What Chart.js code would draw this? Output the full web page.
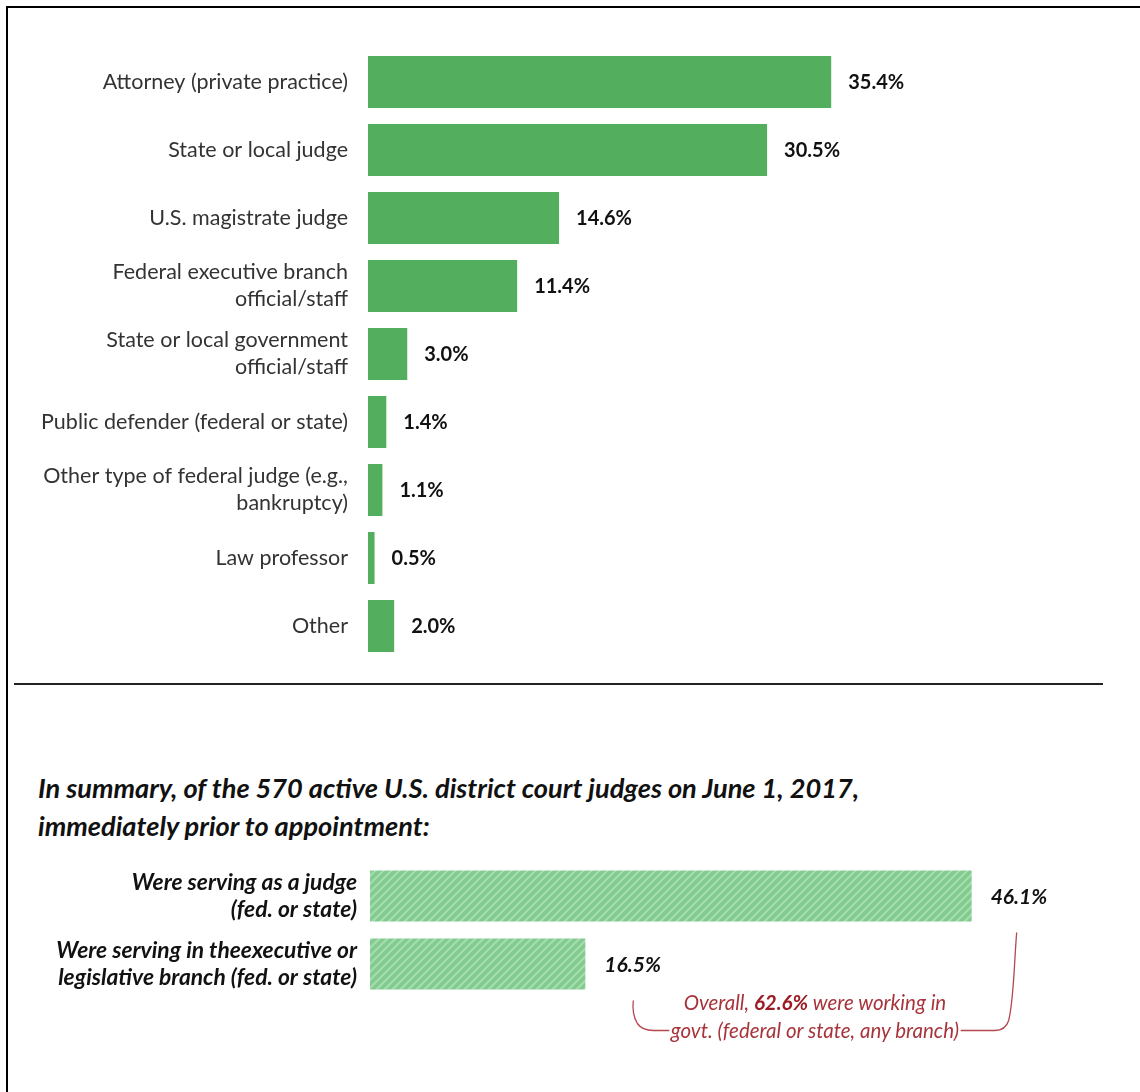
<!DOCTYPE html>
<html>
<head>
<meta charset="utf-8">
<script src="https://cdn.jsdelivr.net/npm/chart.js@4"></script>
<style>
  html, body { margin: 0; padding: 0; background: #fff; }
  body { width: 1140px; height: 1092px; position: relative; overflow: hidden; font-family: Lato, "Open Sans", sans-serif; }
  .frame-left { position: absolute; left: 6px; top: 6px; width: 2px; height: 1086px; background: #000; }
  .frame-top { position: absolute; left: 6px; top: 6px; width: 1134px; height: 2px; background: #000; }
  .rule { position: absolute; left: 14px; top: 683px; width: 1089px; height: 2px; background: #222; }
  canvas { position: absolute; left: 0; }
  #chart-main { top: 48px; }
  #chart-summary { top: 862px; }
  .title { position: absolute; left: 38px; top: 769px; font-size: 27.2px; font-weight: bold; font-style: italic; line-height: 38px; color: #111; white-space: nowrap; }
  .note { position: absolute; left: 565px; top: 988px; width: 500px; text-align: center; font-size: 20.5px; font-style: italic; line-height: 28px; color: #a8343b; }
  .note b { color: #9b1c24; }
</style>
</head>
<body>
<div class="frame-left"></div>
<div class="frame-top"></div>
<canvas id="chart-main" width="1140" height="612" style="width:1140px;height:612px"></canvas>
<div class="rule"></div>
<div class="title">In summary, of the 570 active U.S. district court judges on June 1, 2017,<br>immediately prior to appointment:</div>
<canvas id="chart-summary" width="1140" height="220" style="width:1140px;height:220px"></canvas>
<div class="note">Overall, <b>62.6%</b> were working in<br>govt. (federal or state, any branch)</div>
<script>
(function () {
    'use strict';

    // ── Data ─────────────────────────────────────────────────────────────────
    var roleLabels = [
        'Attorney (private practice)',
        'State or local judge',
        'U.S. magistrate judge',
        ['Federal executive branch', 'official/staff'],
        ['State or local government', 'official/staff'],
        'Public defender (federal or state)',
        ['Other type of federal judge (e.g.,', 'bankruptcy)'],
        'Law professor',
        'Other'
    ];
    var roleShares = [35.4, 30.5, 14.6, 11.4, 3.0, 1.4, 1.1, 0.5, 2.0];

    var summaryLabels = [
        ['Were serving as a judge', '(fed. or state)'],
        ['Were serving in theexecutive or', 'legislative branch (fed. or state)']
    ];
    var summaryShares = [46.1, 16.5];

    var GREEN = '#53af5e';
    var FONT = 'Lato, "Open Sans", sans-serif';

    // ── Helpers ──────────────────────────────────────────────────────────────
    function hatchPattern() {
        var c = document.createElement('canvas');
        c.width = 8; c.height = 8;
        var g = c.getContext('2d');
        g.fillStyle = '#80cb8d';
        g.fillRect(0, 0, 8, 8);
        g.strokeStyle = '#a6dcaf';
        g.lineWidth = 2.2;
        g.beginPath();
        g.moveTo(-2, 10); g.lineTo(10, -2);
        g.moveTo(-6, 6);  g.lineTo(6, -6);
        g.moveTo(2, 14);  g.lineTo(14, 2);
        g.stroke();
        return g.createPattern(c, 'repeat');
    }

    function valueLabels(opts) {
        return {
            id: 'valueLabels',
            afterDatasetsDraw: function (chart) {
                var ctx = chart.ctx;
                var meta = chart.getDatasetMeta(0);
                var data = chart.data.datasets[0].data;
                ctx.save();
                ctx.font = opts.font;
                ctx.fillStyle = '#111';
                ctx.textBaseline = 'middle';
                meta.data.forEach(function (bar, i) {
                    ctx.fillText(data[i].toFixed(1) + '%', bar.x + opts.gap, bar.y + 1);
                });
                ctx.restore();
            }
        };
    }

    // bracket joining the two summary labels
    var bracket = {
        id: 'bracket',
        afterDraw: function (chart) {
            var ctx = chart.ctx;
            var meta = chart.getDatasetMeta(0);
            var b0 = meta.data[0], b1 = meta.data[1];
            var xr = b0.x + 45, yr = b0.y + b0.height / 2 + 11;
            var xl = b1.x + 48, yl = b1.y + b1.height / 2 + 11;
            var yb = yl + 30;
            ctx.save();
            ctx.strokeStyle = '#b5474d';
            ctx.lineWidth = 1.3;
            ctx.beginPath();
            ctx.moveTo(xr, yr);
            ctx.bezierCurveTo(xr - 3, yr + 40, xr - 3, yb - 30, xr - 8, yb - 10);
            ctx.quadraticCurveTo(xr - 11, yb, xr - 22, yb);
            ctx.lineTo(xr - 56, yb);
            ctx.moveTo(xl, yl);
            ctx.bezierCurveTo(xl - 1, yl + 8, xl, yb - 14, xl + 4, yb - 7);
            ctx.quadraticCurveTo(xl + 9, yb, xl + 20, yb);
            ctx.lineTo(xl + 36, yb);
            ctx.stroke();
            ctx.restore();
        }
    };

    // fixed axis width, no extra label padding above/below the plot
    function fixedAxis(width) {
        return function (scale) {
            scale.width = width;
            scale.paddingTop = 0;
            scale.paddingBottom = 0;
        };
    }

    // ── Main chart ───────────────────────────────────────────────────────────
    new Chart(document.getElementById('chart-main'), {
        type: 'bar',
        data: {
            labels: roleLabels,
            datasets: [{
                data: roleShares,
                backgroundColor: GREEN,
                barPercentage: 52 / 68,
                categoryPercentage: 1
            }]
        },
        options: {
            indexAxis: 'y',
            responsive: false,
            animation: false,
            layout: { padding: 0 },
            plugins: { legend: { display: false }, tooltip: { enabled: false } },
            scales: {
                x: { display: false, min: 0, max: 59 },
                y: {
                    afterFit: fixedAxis(368),
                    grid: { display: false, drawTicks: false },
                    border: { display: false },
                    ticks: {
                        padding: 20,
                        color: '#333',
                        font: { family: FONT, size: 21.5, lineHeight: 1.26 }
                    }
                }
            }
        },
        plugins: [valueLabels({ font: 'bold 20px ' + FONT, gap: 17 })]
    });

    // ── Summary chart ────────────────────────────────────────────────────────
    new Chart(document.getElementById('chart-summary'), {
        type: 'bar',
        data: {
            labels: summaryLabels,
            datasets: [{
                data: summaryShares,
                backgroundColor: hatchPattern(),
                barPercentage: 51 / 68,
                categoryPercentage: 1
            }]
        },
        options: {
            indexAxis: 'y',
            responsive: false,
            animation: false,
            layout: { padding: { bottom: 84 } },
            plugins: { legend: { display: false }, tooltip: { enabled: false } },
            scales: {
                x: { display: false, min: 0, max: 59 },
                y: {
                    afterFit: fixedAxis(370),
                    grid: { display: false, drawTicks: false },
                    border: { display: false },
                    ticks: {
                        padding: 13,
                        color: '#111',
                        font: { family: FONT, size: 22.8, weight: 'bold', style: 'italic', lineHeight: 1.19 }
                    }
                }
            }
        },
        plugins: [valueLabels({ font: 'italic bold 21px ' + FONT, gap: 19 }), bracket]
    });
})();
</script>
</body>
</html>
